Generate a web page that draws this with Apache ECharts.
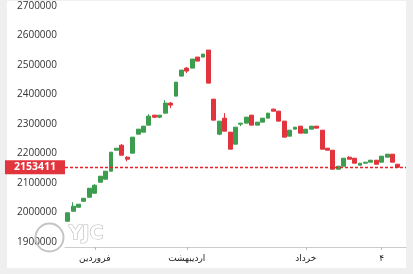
<!DOCTYPE html>
<html><head><meta charset="utf-8">
<script src="https://cdn.jsdelivr.net/npm/echarts@6/dist/echarts.min.js"></script>
<style>
html,body{margin:0;padding:0;background:#efefef;width:413px;height:274px;overflow:hidden;}
#panel{position:absolute;left:7px;top:1px;width:399px;height:267px;background:#fff;}
#c{position:absolute;left:0;top:0;width:413px;height:274px;}
</style></head>
<body><div id="panel"></div><div id="c"></div>
<script>
// categories (trading days, plus one empty slot at the end)
const days = ['1','2','3','4','5','6','7','8','9','10','11','12','13','14','15','16','17','18','19','20',
'21','22','23','24','25','26','27','28','29','30','31','32','33','34','35','36','37','38','39','40',
'41','42','43','44','45','46','47','48','49','50','51','52','53','54','55','56','57','58','59','60',
'61','62',''];
const opens = [1970300,2004200,2017800,2038100,2051700,2065300,2102600,2112800,2140000,2211200,
2228200,2187500,2201000,2265500,2272300,2296100,2330000,2323200,2336800,2370800,
2394500,2462400,2489500,2489500,2526900,2526900,2550600,2384300,2265500,2319800,
2272300,2231600,2299500,2302900,2330000,2296100,2306300,2319800,2350400,2343600,
2309700,2258700,2282500,2292700,2268900,2282500,2292700,2279100,2218000,2211200,
2146700,2156900,2187500,2184100,2160300,2167100,2170500,2177300,2170500,2187500,
2197700,2163700];
const closes = [1999000,2021200,2028000,2048300,2082300,2092400,2123000,2140000,2204400,2218000,
2194300,2180700,2255400,2282500,2292700,2326600,2323200,2330000,2370800,2364000,
2442000,2482800,2479400,2520100,2513300,2537000,2438600,2313000,2309700,2275700,
2214600,2289300,2302900,2323200,2296100,2306300,2319800,2336800,2343600,2309700,
2255400,2279100,2289300,2268900,2282500,2292700,2285900,2214600,2211200,2146700,
2156900,2184100,2180700,2167100,2167100,2170500,2177300,2163700,2190900,2197700,
2170500,2153411];
const lows = [1970300,2004200,2017800,2038100,2051700,2065300,2102600,2112800,2140000,2211200,
2194300,2173900,2201000,2265500,2272300,2296100,2320000,2319800,2336800,2353800,
2394500,2462400,2472600,2489500,2513300,2526900,2438600,2313000,2262100,2275700,
2214600,2231600,2292700,2302900,2296100,2296100,2306300,2319800,2343600,2309700,
2255400,2258700,2282500,2268900,2268900,2282500,2285900,2214600,2211200,2146700,
2146700,2156900,2180700,2167100,2160300,2167100,2170500,2163700,2170500,2187500,
2170500,2153411];
const highs = [1999000,2034700,2028000,2048300,2082300,2095800,2123000,2140000,2204400,2218000,
2231600,2190900,2255400,2282500,2292700,2333400,2331000,2330000,2380900,2374100,
2442000,2482800,2492900,2520100,2526900,2537000,2550600,2384300,2309700,2336800,
2272300,2289300,2302900,2323200,2330000,2306300,2319800,2336800,2352000,2343600,
2309700,2279100,2289300,2292700,2282500,2292700,2292700,2279100,2218000,2211200,
2156900,2184100,2190900,2184100,2167100,2170500,2177300,2177300,2190900,2197700,
2197700,2163700];
const lastPrice = 2153411;
// x-axis tick labels and the category index each sits on
const tickIndices = [5, 22, 44, 58];
const tickLabels = ['فروردین', 'اردیبهشت', 'خرداد', '۴'];
// y-axis range
const yMin = 1900000, yMax = 2700000, yStep = 100000;

const candleData = opens.map((o, i) => [o, closes[i], lows[i], highs[i]]);
candleData.push('-');

const GREEN = '#3c9d4e', RED = '#e2343c';
const chart = echarts.init(document.getElementById('c'), null, {renderer: 'canvas'});
const showTick = (i) => tickIndices.indexOf(i) >= 0;
chart.setOption({
  animation: false,
  backgroundColor: 'transparent',
  grid: {left: 65, right: 7, top: 6, bottom: 32},
  xAxis: {
    type: 'category',
    data: days,
    boundaryGap: true,
    offset: 5,
    axisLine: {show: true, lineStyle: {color: '#cccccc', width: 1}},
    axisTick: {show: true, alignWithLabel: true, interval: showTick, length: 3, lineStyle: {color: '#bbbbbb'}},
    axisLabel: {
      show: true, interval: showTick, margin: 7,
      fontFamily: 'DejaVu Sans', fontSize: 9, color: '#222',
      formatter: (v, i) => { const k = tickIndices.indexOf(i); return k >= 0 ? tickLabels[k] : ''; }
    },
    splitLine: {show: false}
  },
  yAxis: {
    type: 'value',
    min: yMin, max: yMax, interval: yStep,
    axisLine: {show: false}, axisTick: {show: false},
    splitLine: {show: false},
    axisLabel: {align: 'left', margin: 48, fontFamily: 'Open Sans', fontSize: 10, color: '#333',
      formatter: (v) => String(v)}
  },
  series: [{
    type: 'candlestick',
    data: candleData,
    barWidth: 4.4,
    itemStyle: {color: GREEN, color0: RED, borderColor: GREEN, borderColor0: RED, borderWidth: 1},
    markLine: {
      symbol: ['none', 'none'],
      silent: true,
      animation: false,
      precision: 0,
      data: [{yAxis: lastPrice}],
      lineStyle: {color: '#e8202a', type: [3, 2], width: 1.3, opacity: 1, dashOffset: 0},
      emphasis: {disabled: true},
      label: {
        show: true, position: 'start', distance: 0,
        formatter: String(lastPrice),
        color: '#fff', backgroundColor: RED, fontWeight: 'bold',
        fontFamily: 'Open Sans', fontSize: 10.5, lineHeight: 11,
        padding: [2, 9, 1, 9]
      }
    }
  }],
  graphic: [
    {type: 'circle', left: 33, top: 221, shape: {r: 14}, style: {fill: 'none', stroke: '#c4c4c4', lineWidth: 2}, z: 10},
    {type: 'text', left: 68, top: 224, style: {text: 'YJC', font: 'bold 19px "DejaVu Sans"', fill: '#ffffff', stroke: '#b8b8b8', lineWidth: 1.2}, z: 10}
  ]
});
</script>
</body></html>
